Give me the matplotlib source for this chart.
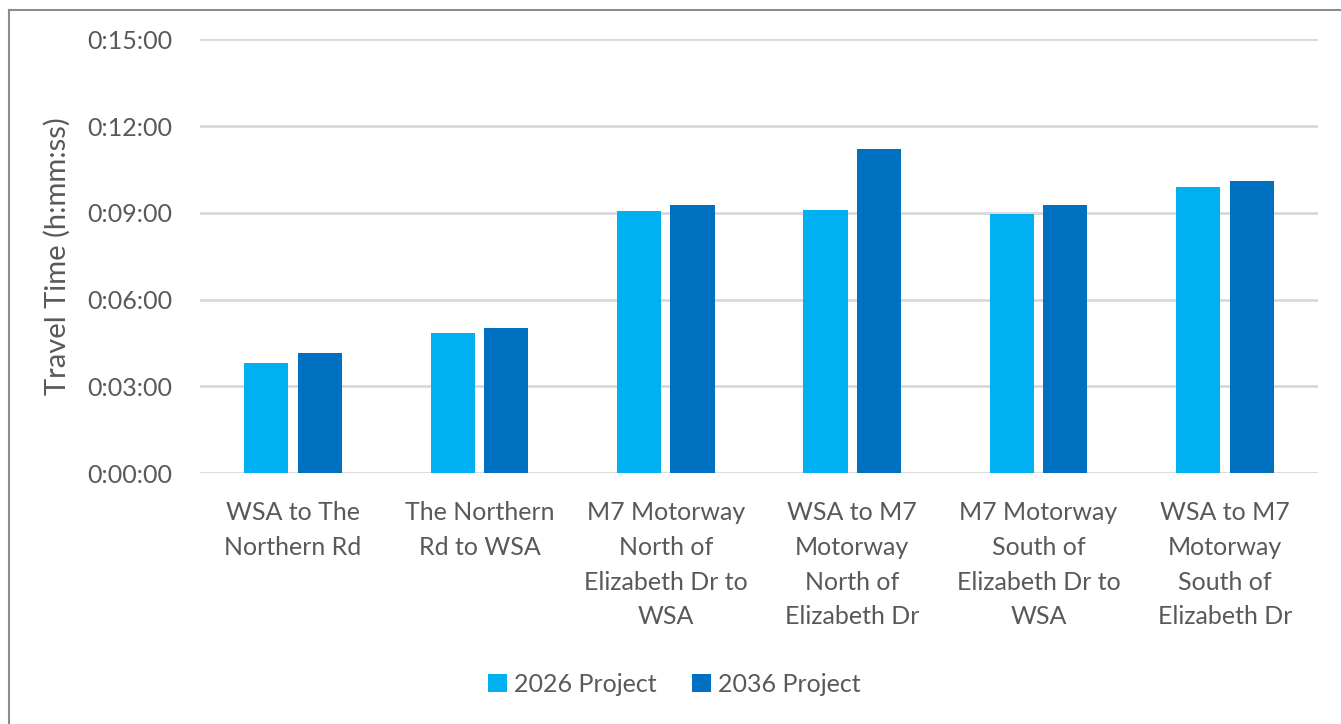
import numpy as np
import matplotlib.pyplot as plt
from matplotlib.lines import Line2D
from matplotlib.ticker import FuncFormatter, MultipleLocator

# travel times in minutes
routes = ['WSA to The\nNorthern Rd',
          'The Northern\nRd to WSA',
          'M7 Motorway\nNorth of\nElizabeth Dr to\nWSA',
          'WSA to M7\nMotorway\nNorth of\nElizabeth Dr',
          'M7 Motorway\nSouth of\nElizabeth Dr to\nWSA',
          'WSA to M7\nMotorway\nSouth of\nElizabeth Dr']
project_2026 = [3.80, 4.86, 9.07, 9.10, 8.95, 9.90]
project_2036 = [4.17, 5.01, 9.27, 11.21, 9.26, 10.10]
series_names = ['2026 Project', '2036 Project']
colors = ['#00B0F0', '#0070C0']

plt.rcParams['font.family'] = ['Lato', 'DejaVu Sans']
text_col = '#595959'
fs = 18

fig = plt.figure(figsize=(13.41, 7.24), dpi=100)
ax = fig.add_axes([0.149, 0.3463, 0.834, 0.5994])

x = np.arange(len(routes))
w = 0.237
off = 0.143
ax.bar(x - off, project_2026, w, color=colors[0], label=series_names[0], zorder=3)
ax.bar(x + off, project_2036, w, color=colors[1], label=series_names[1], zorder=3)

ax.set_xlim(-0.5, len(routes) - 0.5)
ax.set_ylim(0, 15)
ax.yaxis.set_major_locator(MultipleLocator(3))


def hms(v, pos):
    total = int(round(v * 60))
    return f'{total // 3600}:{(total % 3600) // 60:02d}:{total % 60:02d}'


ax.yaxis.set_major_formatter(FuncFormatter(hms))
ax.grid(axis='y', color='#d9d9d9', linewidth=2, zorder=0)
for s in ax.spines.values():
    s.set_visible(False)
ax.tick_params(axis='both', length=0, labelsize=fs, colors=text_col)
ax.tick_params(axis='y', pad=20)
ax.tick_params(axis='x', pad=20)
ax.set_xticks(x)
ax.set_xticklabels(routes, linespacing=1.62)
ax.set_ylabel('Travel Time (h:mm:ss)', fontsize=21, color=text_col, labelpad=12)

leg = fig.legend(loc='center', bbox_to_anchor=(0.503, 0.055), ncol=2, frameon=False,
                 fontsize=fs, handlelength=0.75, handleheight=0.75, handletextpad=0.3,
                 columnspacing=1.4)
for t in leg.get_texts():
    t.set_color(text_col)

# chart frame (left and top edges)
fig.add_artist(Line2D([8.5 / 1341, 8.5 / 1341], [0, 1 - 9.5 / 724],
                      transform=fig.transFigure, color='#8c8c8c', linewidth=1.5))
fig.add_artist(Line2D([8.5 / 1341, 1], [1 - 9.5 / 724, 1 - 9.5 / 724],
                      transform=fig.transFigure, color='#8c8c8c', linewidth=1.5))

fig.savefig('out.png', dpi=100)
